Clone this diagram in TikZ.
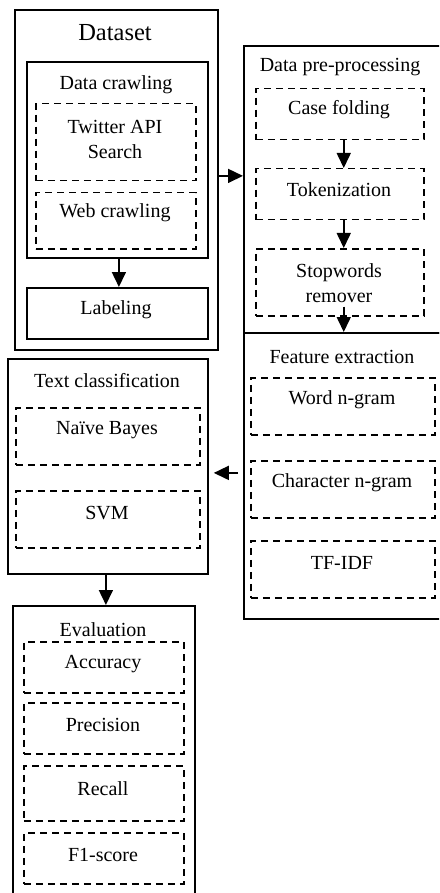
\documentclass[tikz,border=0pt]{standalone}
\usepackage{fontspec}
\setmainfont{Liberation Serif}
\newfontfamily\timesx{Liberation Serif}
\usetikzlibrary{arrows.meta}
\begin{document}
\begin{tikzpicture}[x=1pt,y=-1pt,
  solidbox/.style={draw, line width=1.8pt, inner sep=0pt, anchor=north west},
  dbox/.style={draw, line width=1.5pt, dash pattern=on 7pt off 5pt, inner sep=0pt, anchor=north west},
  txt/.style={font=\timesx\fontsize{20}{25}\selectfont, inner sep=0pt, align=center},
  arr/.style={-{Triangle[length=15pt,width=14pt]}, line width=1.6pt}]
\useasboundingbox (0,0) rectangle (439,893);
\clip (0,0) rectangle (439,893);

% Dataset
\node[solidbox, minimum width=203pt, minimum height=340pt] (ds) at (14,9) {};
\node[txt, font=\timesx\fontsize{24.5}{28}\selectfont] (dst) at (115,33) {Dataset};
\node[solidbox, minimum width=181pt, minimum height=196pt] (dc) at (26,61) {};
\node[txt] (dct) at (116,85) {Data crawling};
\node[dbox, minimum width=160pt, minimum height=77pt] (tw) at (35,103) {};
\node[txt] (twt) at (115,139.5) {Twitter API\\Search};
\node[dbox, minimum width=160pt, minimum height=56pt] (web) at (35,192) {};
\node[txt] (webt) at (115,213) {Web crawling};
\node[solidbox, minimum width=181pt, minimum height=51pt] (lab) at (26,287) {};
\node[txt] (labt) at (116,310) {Labeling};

% Data pre-processing
\node[solidbox, minimum width=198pt, minimum height=287pt] (pp) at (243,45) {};
\node[txt] (ppt) at (340,67) {Data pre-processing};
\node[dbox, minimum width=168pt, minimum height=51pt] (cf) at (255,88) {};
\node[txt] (cft) at (339,110) {Case folding};
\node[dbox, minimum width=168pt, minimum height=51pt] (tok) at (255,168) {};
\node[txt] (tokt) at (339,190) {Tokenization};
\node[dbox, minimum width=168pt, minimum height=67pt] (sw) at (255,248) {};
\node[txt] (swt) at (339,283.5) {Stopwords\\remover};

% Feature extraction
\node[solidbox, minimum width=198pt, minimum height=286pt] (fe) at (243,332) {};
\node[txt] (fet) at (342,357) {Feature extraction};
\node[dbox, minimum width=184pt, minimum height=57pt] (wng) at (250,377) {};
\node[txt] (wngt) at (342,400) {Word n-gram};
\node[dbox, minimum width=184pt, minimum height=57pt] (cng) at (250,460) {};
\node[txt] (cngt) at (342,483) {Character n-gram};
\node[dbox, minimum width=184pt, minimum height=57pt] (tfidf) at (250,540) {};
\node[txt] (tfidft) at (342,563) {TF-IDF};

% Text classification
\node[solidbox, minimum width=200pt, minimum height=215pt] (tc) at (7,358) {};
\node[txt] (tct) at (107,381) {Text classification};
\node[dbox, minimum width=184pt, minimum height=57pt] (nb) at (15,407) {};
\node[txt] (nbt) at (107,430) {Naïve Bayes};
\node[dbox, minimum width=184pt, minimum height=57pt] (svm) at (15,490) {};
\node[txt] (svmt) at (107,513) {SVM};

% Evaluation
\node[solidbox, minimum width=182pt, minimum height=291pt] (ev) at (12,605) {};
\node[txt] (evt) at (103,630) {Evaluation};
\node[dbox, minimum width=160pt, minimum height=51pt] (acc) at (23,641) {};
\node[txt] (acct) at (103,664) {Accuracy};
\node[dbox, minimum width=160pt, minimum height=51pt] (prec) at (23,702) {};
\node[txt] (prect) at (103,725) {Precision};
\node[dbox, minimum width=160pt, minimum height=55pt] (rec) at (23,765) {};
\node[txt] (rect) at (103,789) {Recall};
\node[dbox, minimum width=160pt, minimum height=51pt] (f1) at (23,832) {};
\node[txt] (f1t) at (103,855) {F1-score};

% connectors
\draw[arr] ([yshift=4pt]ds.east) -- ([yshift=4pt]ds.east -| pp.west);
\draw[arr] ([xshift=1.5pt]dc.south) -- ([xshift=1.5pt]dc.south |- lab.north);
\draw[arr] ([xshift=4pt]cf.south) -- ([xshift=4pt]cf.south |- tok.north);
\draw[arr] ([xshift=4pt]tok.south) -- ([xshift=4pt]tok.south |- sw.north);
\draw[arr] ([xshift=4pt,yshift=10pt]sw.south) -- ([xshift=4pt]sw.south |- fe.north);
\draw[arr, shorten <=5pt, shorten >=5pt] ([yshift=3pt]fe.west) -- ([yshift=3pt]fe.west -| tc.east);
\draw[arr] ([xshift=-2pt]tc.south) -- ([xshift=-2pt]tc.south |- ev.north);
\end{tikzpicture}
\end{document}
